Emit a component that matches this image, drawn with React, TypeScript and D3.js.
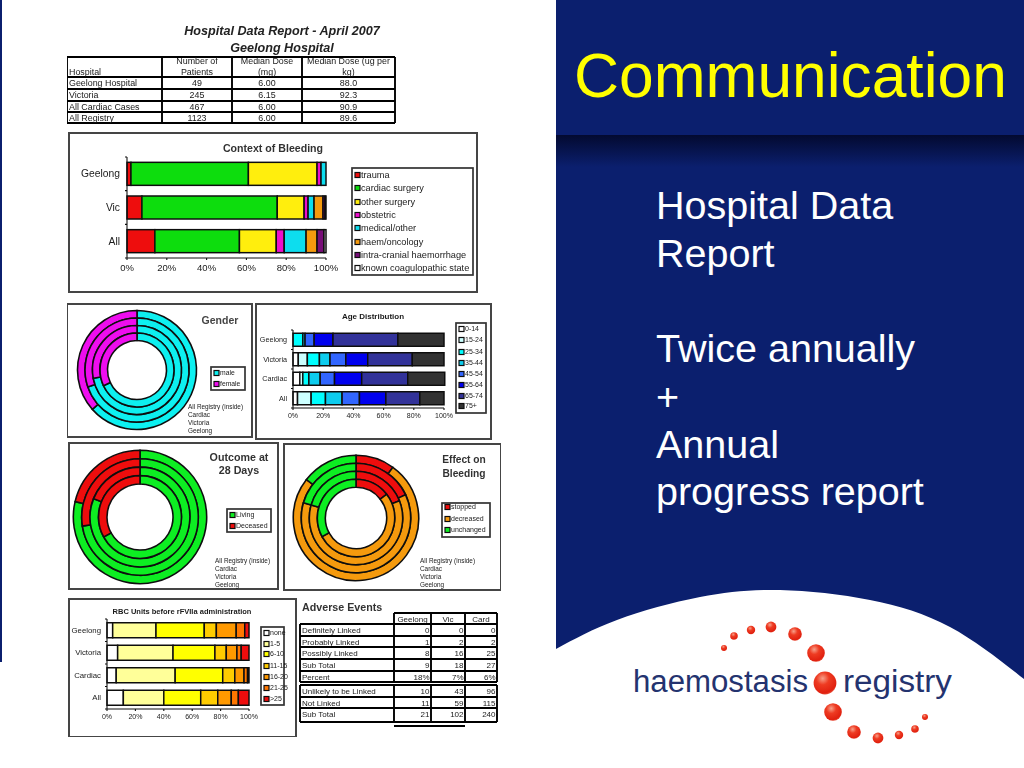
import React from "react";
import * as d3 from "d3";

const FONT = "'Liberation Sans', Arial, sans-serif";

// ---- summary table
const summaryHeaders = [["Hospital"], ["Number of", "Patients"], ["Median Dose", "(mg)"], ["Median Dose (ug per", "kg)"]];
const summaryRows = [
  ["Geelong Hospital", "49", "6.00", "88.0"],
  ["Victoria", "245", "6.15", "92.3"],
  ["All Cardiac Cases", "467", "6.00", "90.9"],
  ["All Registry", "1123", "6.00", "89.6"],
];

// ---- context of bleeding
const contextCats = ["Geelong", "Vic", "All"];
const contextSeries = ["trauma", "cardiac surgery", "other surgery", "obstetric", "medical/other", "haem/oncology", "intra-cranial haemorrhage", "known coagulopathic state"];
const contextColors = ["#ee1111", "#11dd11", "#ffee11", "#ee11cc", "#11ddee", "#f59a11", "#771177", "#ffffff"];
const contextGeelong = [2, 59, 34.5, 2, 2.5, 0, 0, 0];
const contextVic = [7.5, 68, 13.5, 2, 3, 4.5, 1, 0.5];
const contextAll = [14, 42.5, 18.5, 4, 11, 5.5, 3.5, 1];

// ---- age distribution
const ageCats = ["Geelong", "Victoria", "Cardiac", "All"];
const ageSeries = ["0-14", "15-24", "25-34", "35-44", "45-54", "55-64", "65-74", "75+"];
const ageColors = ["#ffffff", "#ccffff", "#00ffff", "#11ccee", "#3366ff", "#0000ee", "#333399", "#333333"];
const ageGeelong = [0, 0, 6.5, 1.5, 6, 12.5, 43, 30.5];
const ageVictoria = [3.5, 6, 8, 7, 10.5, 14.5, 29.5, 21];
const ageCardiac = [4.5, 2, 4, 7.5, 9.5, 18, 30.5, 24.5];
const ageAll = [3, 9, 9.5, 11, 11.5, 17.5, 22.5, 16];

// ---- RBC units
const rbcCats = ["Geelong", "Victoria", "Cardiac", "All"];
const rbcSeries = ["none", "1-5", "6-10", "11-15", "16-20", "21-25", ">25"];
const rbcColors = ["#ffffff", "#ffff99", "#ffff00", "#ffcc00", "#ff9900", "#ff7700", "#ee1111"];
const rbcGeelong = [4, 30.5, 34, 8.5, 14, 6, 3];
const rbcVictoria = [7.5, 39, 29.5, 8, 7.5, 3, 5.5];
const rbcCardiac = [6.5, 41.5, 33.5, 8.5, 6.5, 2.5, 1];
const rbcAll = [11.5, 28.5, 26, 12, 9.5, 5, 7.5];

// ---- doughnuts, rings from outside to inside
const ringNotes = ["All Registry (inside)", "Cardiac", "Victoria", "Geelong"];
const genderLabels = ["male", "female"];
const genderColors = ["#11f0f0", "#ee11ee"];
const genderRings = [[63.5, 36.5], [69.7, 30.3], [72, 28], [68, 32]];
const outcomeLabels = ["Living", "Deceased"];
const outcomeColors = ["#11ee22", "#ee1111"];
const outcomeRings = [[78.7, 21.3], [72.5, 27.5], [81, 19], [67, 33]];
const effectLabels = ["stopped", "decreased", "unchanged"];
const effectColors = ["#ee1111", "#f59a11", "#11ee22"];
const effectRings = [[10, 75.5, 14.5], [18, 61.5, 20.5], [19, 60.5, 20.5], [14.5, 52.5, 33]];

// ---- adverse events
const adverseCols = ["Geelong", "Vic", "Card"];
const adverseTop = [
  ["Definitely Linked", "0", "0", "0"],
  ["Probably Linked", "1", "2", "2"],
  ["Possibly Linked", "8", "16", "25"],
  ["Sub Total", "9", "18", "27"],
  ["Percent", "18%", "7%", "6%"],
];
const adverseBottom = [
  ["Unlikely to be Linked", "10", "43", "96"],
  ["Not Linked", "11", "59", "115"],
  ["Sub Total", "21", "102", "240"],
];

// ---- slide text
const bodyLines = ["Hospital Data", "Report", "", "Twice annually", "+", "Annual", "progress report"];
const swooshX = [556, 617, 700, 780, 870, 950, 1024];
const swooshY = [649, 620, 597, 590, 600, 627, 679];
const dotX = [724, 734, 751, 771, 795, 816, 825, 833, 854, 878, 899, 915, 925];
const dotY = [648, 636, 630, 627, 634, 653, 683, 712, 732, 738, 735, 729, 717];
const dotR = [3, 3.8, 4.2, 5.4, 6.8, 8.8, 11.4, 8.8, 6.8, 5.4, 4.2, 3.8, 3];

const ink = "#1a1a1a";

type Box = { x0: number; x1: number; y0: number; y1: number };

function Frame({ x0, y0, x1, y1, sw = 2, stroke = "#444" }: any) {
  return <rect x={x0} y={y0} width={x1 - x0} height={y1 - y0} fill="#fff" stroke={stroke} strokeWidth={sw} />;
}

function Stacked({ cats, rows, colors, plot, bar, fs, tickFs, catGap = 6 }: { cats: string[]; rows: number[][]; colors: string[]; plot: Box; bar: number; fs: number; tickFs: number; catGap?: number }) {
  const x = d3.scaleLinear().domain([0, 100]).range([plot.x0, plot.x1]);
  const y = d3.scaleBand().domain(cats).range([plot.y0, plot.y1]);
  const offset = (y.bandwidth() - bar) / 2;
  const ticks = [0, 20, 40, 60, 80, 100];
  const stacks = rows.map((r) => {
    let c = 0;
    return r.map((v) => {
      const s = c;
      c += v;
      return [s, c];
    });
  });
  return (
    <g>
      {cats.map((c, i) => (
        <g key={c}>
          {stacks[i].map(([a, b], k) =>
            b > a ? (
              <rect key={k} x={x(a)} width={x(b) - x(a)} y={(y(c) as number) + offset} height={bar} fill={colors[k]} stroke="#111" strokeWidth={1.5} />
            ) : null
          )}
          <text x={plot.x0 - catGap} y={(y(c) as number) + y.bandwidth() / 2 + fs * 0.35} textAnchor="end" fontSize={fs} fill={ink}>{c}</text>
        </g>
      ))}
      <line x1={plot.x0} x2={plot.x0} y1={plot.y0} y2={plot.y1} stroke="#111" strokeWidth={1.1} />
      <line x1={plot.x0} x2={plot.x1} y1={plot.y1} y2={plot.y1} stroke="#111" strokeWidth={1.1} />
      {[...cats.keys(), cats.length].map((i) => {
        const ty = plot.y0 + (i * (plot.y1 - plot.y0)) / cats.length;
        return <line key={i} x1={plot.x0 - 2} x2={plot.x0} y1={ty} y2={ty} stroke="#111" strokeWidth={1.1} />;
      })}
      {ticks.map((t) => (
        <g key={t}>
          <line x1={x(t)} x2={x(t)} y1={plot.y1} y2={plot.y1 + 2} stroke="#111" strokeWidth={1.1} />
          <text x={x(t)} y={plot.y1 + tickFs + 3} textAnchor="middle" fontSize={tickFs} fill={ink}>{t}%</text>
        </g>
      ))}
    </g>
  );
}

function Legend({ labels, colors, box, ys, fs, sw = 1.7 }: { labels: string[]; colors: string[]; box: Box; ys: number[]; fs: number; sw?: number }) {
  return (
    <g>
      <rect x={box.x0} y={box.y0} width={box.x1 - box.x0} height={box.y1 - box.y0} fill="#fff" stroke="#333" strokeWidth={sw} />
      {labels.map((l, i) => (
        <g key={l}>
          <rect x={box.x0 + 3} y={ys[i] - 2.5} width={5} height={5} fill={colors[i]} stroke="#111" strokeWidth={1.2} />
          <text x={box.x0 + 9} y={ys[i] + fs * 0.35} fontSize={fs} fill={ink}>{l}</text>
        </g>
      ))}
    </g>
  );
}

function Doughnut({ cx, cy, inner, outer, rings, colors }: { cx: number; cy: number; inner: number; outer: number; rings: number[][]; colors: string[] }) {
  const r = d3.scaleLinear().domain([rings.length, 0]).range([inner, outer]);
  const pie = d3.pie<number>().sort(null);
  return (
    <g transform={`translate(${cx},${cy})`}>
      {rings.map((ring, i) => {
        const arc = d3.arc<d3.PieArcDatum<number>>().innerRadius(r(i + 1)).outerRadius(r(i));
        return pie(ring).map((s, k) => <path key={`${i}-${k}`} d={arc(s) as string} fill={colors[k]} stroke="#111" strokeWidth={1.6} />);
      })}
    </g>
  );
}

function Grid({ xs, ys, sw = 1.9 }: { xs: number[]; ys: number[]; sw?: number }) {
  return (
    <g stroke="#000" strokeWidth={sw}>
      {xs.map((x) => <line key={x} x1={x} x2={x} y1={ys[0]} y2={ys[ys.length - 1]} />)}
      {ys.map((y) => <line key={y} x1={xs[0]} x2={xs[xs.length - 1]} y1={y} y2={y} />)}
    </g>
  );
}

function Notes({ x, y, step, fs }: { x: number; y: number; step: number; fs: number }) {
  return (
    <g>
      {ringNotes.map((n, i) => <text key={n} x={x} y={y + i * step} fontSize={fs} fill={ink}>{n}</text>)}
    </g>
  );
}

export default function App() {
  const swoosh = d3.line<number>().x((v) => v).y((_, i) => swooshY[i]).curve(d3.curveNatural)(swooshX) as string;
  const sx = [67, 162, 232, 302, 395];
  const sy = [57, 77, 89, 101, 112, 123];
  const ax = [394, 431, 465, 497];
  const topY = [624, 636, 647, 659, 671, 682];
  const botY = [685, 697, 708, 722];
  const aRowX = [300, 394, 431, 465, 497];
  return (
    <svg width={1024} height={768} viewBox="0 0 1024 768" style={{ position: "fixed", left: 0, top: 0 }} fontFamily={FONT}>
      <defs>
        <filter id="soft" x="0" y="0" width="100%" height="100%"><feGaussianBlur stdDeviation="0.6" /></filter>
        <linearGradient id="shadow" x1="0" x2="0" y1="0" y2="1">
          <stop offset="0" stopColor="#030a30" />
          <stop offset="1" stopColor="#0b1f6e" />
        </linearGradient>
        <radialGradient id="ball" cx="0.4" cy="0.3" r="0.8">
          <stop offset="0" stopColor="#f7a08a" />
          <stop offset="0.35" stopColor="#ee3b22" />
          <stop offset="0.8" stopColor="#e0200f" />
          <stop offset="1" stopColor="#f27a60" />
        </radialGradient>
      </defs>
      <rect width={1024} height={768} fill="#0b1f6e" />
      <rect x={556} y={135} width={468} height={32} fill="url(#shadow)" />
      <rect x={2} y={0} width={554} height={768} fill="#fff" />
      <rect x={0} y={662} width={2} height={106} fill="#fff" />
      <path d={`${swoosh}L1024,768L556,768Z`} fill="#fff" />

      <g filter="url(#soft)">
        {/* summary table */}
        <text x={282} y={35} textAnchor="middle" fontSize={12.6} fontWeight="bold" fontStyle="italic" fill="#222">Hospital Data Report - April 2007</text>
        <text x={282} y={52} textAnchor="middle" fontSize={12.6} fontWeight="bold" fontStyle="italic" fill="#222">Geelong Hospital</text>
        <Grid xs={sx} ys={sy} />
        {summaryHeaders.map((h, i) =>
          h.map((t, k) => (
            <text key={`${i}${k}`} x={i === 0 ? 69 : (sx[i] + sx[i + 1]) / 2} y={i === 0 ? 75 : 64 + k * 10.5} textAnchor={i === 0 ? "start" : "middle"} fontSize={8.9} fill={ink}>{t}</text>
          ))
        )}
        {summaryRows.map((r, i) =>
          r.map((t, k) => (
            <text key={k} x={k === 0 ? 69 : (sx[k] + sx[k + 1]) / 2} y={sy[i + 1] + 9.2} textAnchor={k === 0 ? "start" : "middle"} fontSize={8.9} fill={ink}>{t}</text>
          ))
        )}

        {/* context of bleeding */}
        <Frame x0={69} y0={133} x1={477} y1={292} />
        <text x={273} y={152} textAnchor="middle" fontSize={10.6} fontWeight="bold" fill="#333">Context of Bleeding</text>
        <Stacked cats={contextCats} rows={[contextGeelong, contextVic, contextAll]} colors={contextColors} plot={{ x0: 127, x1: 326, y0: 157, y1: 258 }} bar={23} fs={10.3} tickFs={9.5} catGap={7} />
        <Legend labels={contextSeries} colors={contextColors} box={{ x0: 352, x1: 473, y0: 168, y1: 275 }} ys={[175, 188, 202, 215, 228, 242, 255, 268]} fs={9.2} />

        {/* gender */}
        <Frame x0={67} y0={304} x1={252} y1={437} />
        <Doughnut cx={137} cy={370} inner={29.5} outer={59.5} rings={genderRings} colors={genderColors} />
        <text x={220} y={324} textAnchor="middle" fontSize={10.5} fontWeight="bold" fill="#444">Gender</text>
        <Legend labels={genderLabels} colors={genderColors} box={{ x0: 211, x1: 245, y0: 367, y1: 390 }} ys={[373, 384]} fs={6.8} />
        <Notes x={188} y={409} step={8} fs={6.4} />

        {/* age */}
        <Frame x0={256} y0={304} x1={491} y1={439} />
        <text x={373} y={319} textAnchor="middle" fontSize={8} fontWeight="bold" fill={ink}>Age Distribution</text>
        <Stacked cats={ageCats} rows={[ageGeelong, ageVictoria, ageCardiac, ageAll]} colors={ageColors} plot={{ x0: 293, x1: 444, y0: 330, y1: 408 }} bar={13} fs={7.2} tickFs={7} catGap={6} />
        <Legend labels={ageSeries} colors={ageColors} box={{ x0: 456, x1: 486, y0: 323, y1: 413 }} ys={[329, 340, 352, 363, 374, 385, 396, 406]} fs={7} />

        {/* outcome */}
        <Frame x0={69} y0={443} x1={278} y1={589} />
        <Doughnut cx={140} cy={517} inner={33} outer={66.7} rings={outcomeRings} colors={outcomeColors} />
        <text x={239} y={461} textAnchor="middle" fontSize={10.7} fontWeight="bold" fill="#333">Outcome at</text>
        <text x={239} y={474} textAnchor="middle" fontSize={10.7} fontWeight="bold" fill="#333">28 Days</text>
        <Legend labels={outcomeLabels} colors={outcomeColors} box={{ x0: 227, x1: 271, y0: 509, y1: 532 }} ys={[515, 526]} fs={7} />
        <Notes x={215} y={563} step={8} fs={6.4} />

        {/* effect */}
        <Frame x0={284} y0={444} x1={501} y1={590} />
        <Doughnut cx={356} cy={518} inner={30.7} outer={62.7} rings={effectRings} colors={effectColors} />
        <text x={464} y={463} textAnchor="middle" fontSize={10.2} fontWeight="bold" fill="#333">Effect on</text>
        <text x={464} y={477} textAnchor="middle" fontSize={10.2} fontWeight="bold" fill="#333">Bleeding</text>
        <Legend labels={effectLabels} colors={effectColors} box={{ x0: 442, x1: 490, y0: 503, y1: 537 }} ys={[507, 519, 530]} fs={7} />
        <Notes x={420} y={563} step={8} fs={6.4} />

        {/* RBC */}
        <Frame x0={69} y0={599} x1={296} y1={737} />
        <text x={182} y={614} textAnchor="middle" fontSize={7.5} fontWeight="bold" fill={ink}>RBC Units before rFVIIa administration</text>
        <Stacked cats={rbcCats} rows={[rbcGeelong, rbcVictoria, rbcCardiac, rbcAll]} colors={rbcColors} plot={{ x0: 107, x1: 249, y0: 619, y1: 709 }} bar={15} fs={7.8} tickFs={7} catGap={6} />
        <Legend labels={rbcSeries} colors={rbcColors} box={{ x0: 261, x1: 284, y0: 627, y1: 705 }} ys={[633, 644, 654, 666, 677, 688, 699]} fs={7} />

        {/* adverse */}
        <text x={302} y={611} fontSize={10.7} fontWeight="bold" fill="#333">Adverse Events</text>
        <Grid xs={ax} ys={[613, 624]} />
        {adverseCols.map((c, i) => <text key={c} x={(ax[i] + ax[i + 1]) / 2} y={622} textAnchor="middle" fontSize={8} fill={ink}>{c}</text>)}
        <Grid xs={aRowX} ys={topY} />
        <Grid xs={aRowX} ys={botY} />
        {adverseTop.map((r, i) =>
          r.map((t, k) => (
            <text key={k} x={k === 0 ? 302 : aRowX[k + 1] - 1.5} y={topY[i] + 9} textAnchor={k === 0 ? "start" : "end"} fontSize={8} fill={ink}>{t}</text>
          ))
        )}
        {adverseBottom.map((r, i) =>
          r.map((t, k) => (
            <text key={k} x={k === 0 ? 302 : aRowX[k + 1] - 1.5} y={botY[i] + 9} textAnchor={k === 0 ? "start" : "end"} fontSize={8} fill={ink}>{t}</text>
          ))
        )}
        <line x1={394} x2={465} y1={726} y2={726} stroke="#000" strokeWidth={2} />
      </g>

      {/* right panel */}
      <text x={574} y={97} fontSize={62.3} fill="#ffff00">Communication</text>
      {bodyLines.map((l, i) => (
        <text key={i} x={656} y={219 + i * 47.7} fontSize={39.5} fill="#fff">{l}</text>
      ))}

      {/* logo */}
      <text x={633} y={692} fontSize={31} fill="#24336f" textLength={175} lengthAdjust="spacingAndGlyphs">haemostasis</text>
      <text x={843} y={692} fontSize={31} fill="#24336f" textLength={109} lengthAdjust="spacingAndGlyphs">registry</text>
      {dotX.map((x, i) => <circle key={i} cx={x} cy={dotY[i]} r={dotR[i]} fill="url(#ball)" />)}
    </svg>
  );
}
